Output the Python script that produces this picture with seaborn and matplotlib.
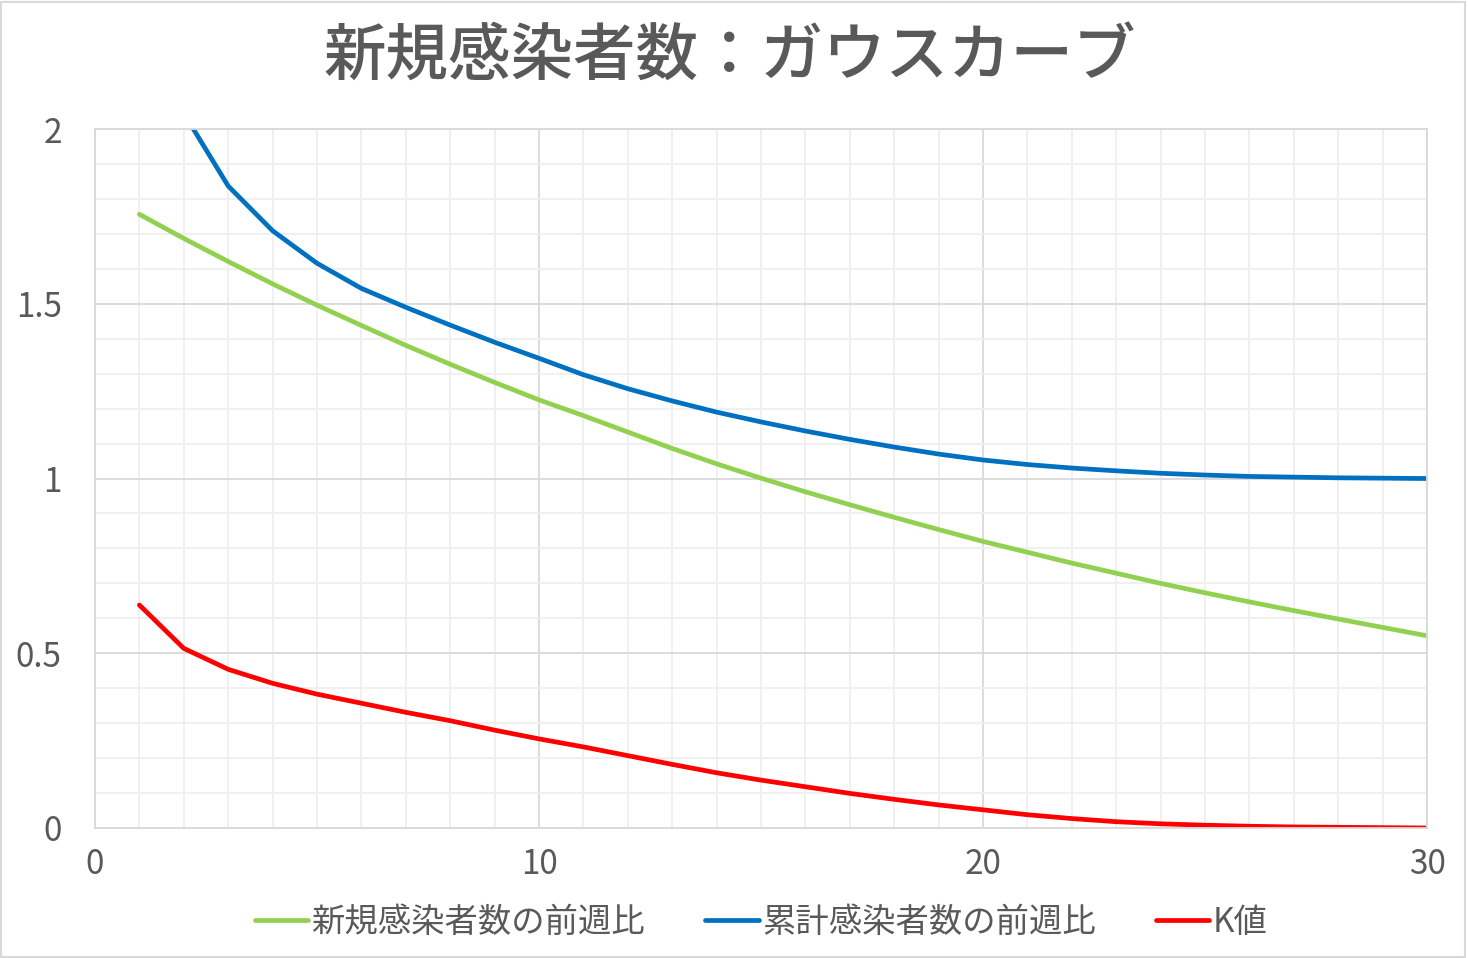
import pandas as pd
import matplotlib.pyplot as plt
import matplotlib.ticker as mticker
from matplotlib.patches import Rectangle
import seaborn as sns

# ---------- DATA ----------
days = list(range(1, 31))

new_ratio = [1.756, 1.687, 1.621, 1.557, 1.496, 1.438, 1.381, 1.327, 1.275, 1.225,
             1.180, 1.133, 1.086, 1.042, 1.001, 0.962, 0.925, 0.889, 0.854, 0.820,
             0.789, 0.758, 0.729, 0.700, 0.673, 0.647, 0.622, 0.598, 0.574, 0.550]

cum_ratio = [2.55, 2.045, 1.837, 1.709, 1.616, 1.544, 1.490, 1.439, 1.390, 1.344,
             1.297, 1.257, 1.222, 1.190, 1.162, 1.136, 1.112, 1.090, 1.070, 1.053,
             1.040, 1.030, 1.022, 1.015, 1.010, 1.006, 1.004, 1.002, 1.001, 1.000]

k_value = [0.638, 0.514, 0.454, 0.414, 0.383, 0.357, 0.331, 0.307, 0.280, 0.255,
           0.232, 0.207, 0.182, 0.158, 0.137, 0.118, 0.099, 0.082, 0.066, 0.052,
           0.038, 0.027, 0.018, 0.012, 0.008, 0.005, 0.003, 0.002, 0.001, 0.000]

series_names = ["新規感染者数の前週比", "累計感染者数の前週比", "K値"]
series_colors = ["#92D050", "#0070C0", "#FF0000"]

title = "新規感染者数：ガウスカーブ"

x_ticks = [0, 10, 20, 30]
y_ticks = [0, 0.5, 1, 1.5, 2]

df = pd.concat([
    pd.DataFrame({"day": days, "value": new_ratio, "series": series_names[0]}),
    pd.DataFrame({"day": days, "value": cum_ratio, "series": series_names[1]}),
    pd.DataFrame({"day": days, "value": k_value, "series": series_names[2]}),
])

# ---------- STYLE ----------
sns.set_style("white")
plt.rcParams["font.family"] = ["Noto Sans CJK JP", "DejaVu Sans"]
text_color = "#595959"

fig = plt.figure(figsize=(14.68, 9.58), dpi=100)
ax = fig.add_axes([0.0647, 0.1357, 0.9074, 0.7296])

sns.lineplot(data=df, x="day", y="value", hue="series", hue_order=series_names,
             palette=series_colors, linewidth=3.4, ax=ax)

ax.set_xlim(0, 30)
ax.set_ylim(0, 2)
ax.set_xticks(x_ticks)
ax.set_yticks(y_ticks)
ax.xaxis.set_minor_locator(mticker.MultipleLocator(1))
ax.yaxis.set_minor_locator(mticker.MultipleLocator(0.1))
ax.yaxis.set_major_formatter(lambda v, _: f"{v:g}")
ax.grid(which="major", color="#d9d9d9", linewidth=1.3)
ax.grid(which="minor", color="#efefef", linewidth=1.3)
ax.set_axisbelow(True)
ax.tick_params(which="both", length=0, labelsize=24, colors=text_color)
ax.tick_params(axis="x", pad=14)
ax.tick_params(axis="y", pad=24)
for s in ax.spines.values():
    s.set_color("#d9d9d9")
    s.set_linewidth(1.3)
ax.set_xlabel("")
ax.set_ylabel("")

fig.suptitle(title, x=0.497, y=0.972, fontsize=45, color=text_color, fontweight="medium")

handles, labels = ax.get_legend_handles_labels()
ax.legend(handles, labels, loc="center", bbox_to_anchor=(0.5, -0.135), ncol=3,
          frameon=False, fontsize=24, labelcolor=text_color, handlelength=1.6,
          handletextpad=0.1, columnspacing=1.8)

fig.patches.append(Rectangle((0.001, 0.001), 0.997, 0.997, transform=fig.transFigure,
                             fill=False, edgecolor="#d9d9d9", linewidth=1.5))

plt.savefig("out.png", dpi=100)
plt.close()
